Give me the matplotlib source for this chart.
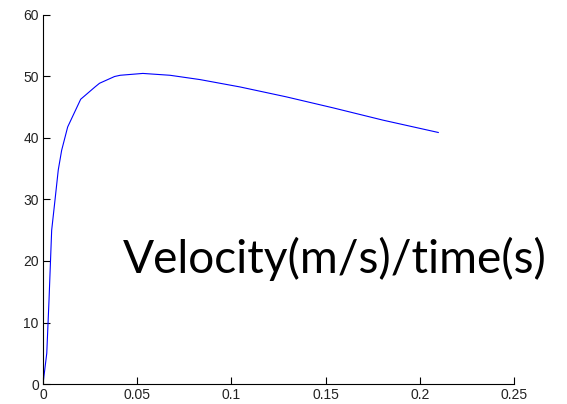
import matplotlib
matplotlib.use("Agg")
import matplotlib.pyplot as plt

# time (s) and velocity (m/s)
t = [0.0, 0.002, 0.0032, 0.0046, 0.0064, 0.0081, 0.0099, 0.0131, 0.020,
     0.0276, 0.030, 0.038, 0.041, 0.053, 0.0674, 0.0833, 0.1046, 0.129,
     0.154, 0.1805, 0.2098]
v = [0.0, 5.0, 13.7, 25.0, 30.0, 34.8, 38.0, 41.8, 46.3,
     48.3, 48.9, 50.0, 50.2, 50.5, 50.2, 49.5, 48.3, 46.7,
     44.9, 42.9, 40.9]

xticks = [0, 0.05, 0.1, 0.15, 0.2, 0.25]
xticklabels = ["0", "0.05", "0.1", "0.15", "0.2", "0.25"]
yticks = [0, 10, 20, 30, 40, 50, 60]

fig = plt.figure(figsize=(5.67, 4.04), dpi=100)
ax = fig.add_axes([43/567, 20/404, 471/567, 369/404])

ax.plot(t, v, color="#0000ff", linewidth=0.8)

ax.set_xlim(0, 0.25)
ax.set_ylim(0, 60)
ax.set_xticks(xticks)
ax.set_xticklabels(xticklabels)
ax.set_yticks(yticks)

for s in ["top", "right"]:
    ax.spines[s].set_visible(False)
for s in ["left", "bottom"]:
    ax.spines[s].set_linewidth(0.8)
ax.tick_params(direction="in", length=5, width=0.8, labelsize=10, pad=3)
for lbl in ax.get_xticklabels() + ax.get_yticklabels():
    lbl.set_fontfamily("Liberation Sans")
    lbl.set_color("#222222")

txt = fig.text(123/567, 1 - 273/404, "Velocity(m/s)/time(s)", fontsize=38,
               family="Lato", ha="left", va="baseline", color="black")
# shrink the label so it spans the same width as in the reference
r = fig.canvas.get_renderer()
w = txt.get_window_extent(renderer=r).width
txt.set_fontsize(38 * 424 / w)

fig.savefig("out.png", dpi=100)
